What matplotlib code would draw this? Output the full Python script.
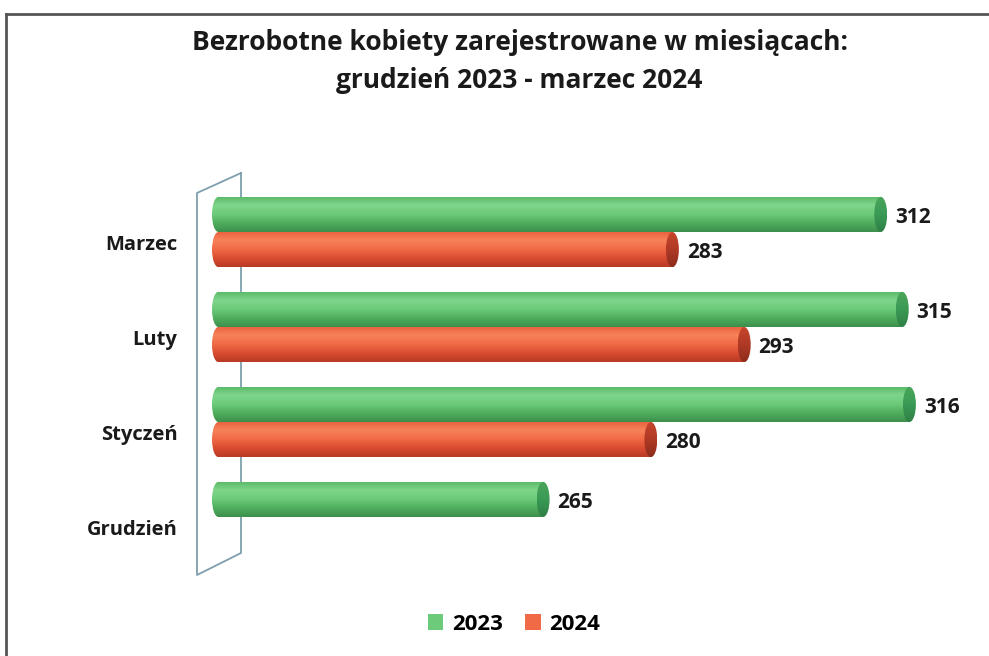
import numpy as np
import matplotlib.pyplot as plt
from matplotlib.colors import LinearSegmentedColormap
from matplotlib.patches import Ellipse, Patch
from matplotlib.lines import Line2D

# Data (top to bottom as shown)
months = ["Marzec", "Luty", "Styczeń", "Grudzień"]
val_2023 = [312, 315, 316, 265]
val_2024 = [283, 293, 280, None]
series = ["2023", "2024"]

plt.rcParams['font.family'] = ['Open Sans', 'DejaVu Sans']

W, H = 989, 656
fig = plt.figure(figsize=(W / 100, H / 100), dpi=100)

x_min, x_max = 218, 322
ax = fig.add_axes([212 / W, 1 - 574 / H, (959 - 212) / W, (574 - 175) / H])
ax.patch.set_visible(False)

green_body = LinearSegmentedColormap.from_list(
    "g", ["#58b866", "#7fd58b", "#6ccb7a", "#4fae5e", "#3d8f4c"])
red_body = LinearSegmentedColormap.from_list(
    "r", ["#e8603c", "#f7825a", "#f06a45", "#d94c30", "#b83a26"])
green_cap = LinearSegmentedColormap.from_list("gc", ["#4aa65a", "#3b9a55", "#2f8046"])
red_cap = LinearSegmentedColormap.from_list("rc", ["#c8462c", "#b03a25", "#8e2c1c"])

bar_h = 0.37
ew = 0.9  # half width of the end ellipses, in data units
grad = np.linspace(0, 1, 200).reshape(-1, 1)


def cylinder(y, v, body_cmap, cap_cmap):
    bar = ax.barh(y, v - ew - (x_min + ew), left=x_min + ew, height=bar_h,
                  color="none", edgecolor="none")[0]
    im = ax.imshow(grad, cmap=body_cmap, aspect="auto", origin="upper",
                   extent=[x_min, v, y - bar_h / 2, y + bar_h / 2], zorder=3)
    im.set_clip_path(bar)
    left = Ellipse((x_min + ew, y), 2 * ew, bar_h, facecolor="none", edgecolor="none")
    ax.add_patch(left)
    im2 = ax.imshow(grad, cmap=body_cmap, aspect="auto", origin="upper",
                    extent=[x_min, v, y - bar_h / 2, y + bar_h / 2], zorder=3)
    im2.set_clip_path(left)
    cap = Ellipse((v - ew, y), 2 * ew, bar_h, facecolor="none", edgecolor="none")
    ax.add_patch(cap)
    im3 = ax.imshow(grad, cmap=cap_cmap, aspect="auto", origin="upper",
                    extent=[v - 2 * ew, v, y - bar_h / 2, y + bar_h / 2], zorder=4)
    im3.set_clip_path(cap)
    ax.text(v + 1.1, y - 0.03, str(v), ha="left", va="center",
            fontsize=15, fontweight="bold", color="#1a1a1a")


pos = np.arange(len(months))[::-1]
for p, v in zip(pos, val_2023):
    cylinder(p + bar_h / 2, v, green_body, green_cap)
for p, v in zip(pos, val_2024):
    if v is not None:
        cylinder(p - bar_h / 2, v, red_body, red_cap)

for p, m in zip(pos, months):
    ax.text(x_min - 4.8, p - 0.14, m, ha="right", va="center",
            fontsize=14.5, fontweight="bold", color="#1a1a1a")

ax.set_xlim(x_min, x_max)
ax.set_ylim(-0.6, 3.6)
ax.axis("off")

# back wall of the 3D chart
wall_x = [241, 197, 197, 241, 241]
wall_y = [173, 193, 575, 553, 173]
ax.add_line(Line2D([x / W for x in wall_x], [1 - y / H for y in wall_y],
                   transform=fig.transFigure, color="#7f9fae", lw=1.3,
                   zorder=1, clip_on=False))

# frame of the chart area
fig.add_artist(Line2D([6 / W, 1], [1 - 14 / H, 1 - 14 / H], color="#555555", lw=2))
fig.add_artist(Line2D([6 / W, 6 / W], [0, 1 - 14 / H], color="#555555", lw=2))

fig.text(520 / W, 1 - 43 / H, "Bezrobotne kobiety zarejestrowane w miesiącach:",
         ha="center", va="center", fontsize=19, fontweight="bold", color="#1a1a1a")
fig.text(519 / W, 1 - 80 / H, "grudzień 2023 - marzec 2024",
         ha="center", va="center", fontsize=19, fontweight="bold", color="#1a1a1a")

handles = [Patch(facecolor="#6ccb7a"), Patch(facecolor="#f06a45")]
leg = fig.legend(handles, series, loc="center", bbox_to_anchor=(514 / W, 1 - 624 / H),
                 ncol=2, frameon=False, handlelength=0.7, handleheight=0.7,
                 handletextpad=0.4, columnspacing=1.0,
                 prop={"size": 16, "weight": "bold"})

fig.savefig("out.png", dpi=100)
